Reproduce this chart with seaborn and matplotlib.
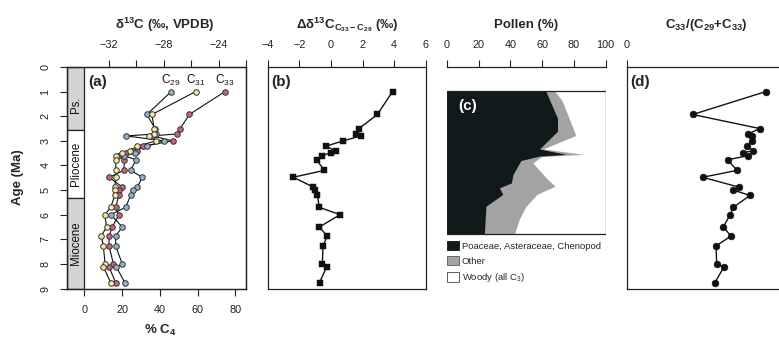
import matplotlib
matplotlib.use("Agg")
import matplotlib.pyplot as plt
import seaborn as sns
import pandas as pd
from matplotlib.patches import Patch, Rectangle

# ---------------- data ----------------
AGE = [1.00, 1.93, 2.50, 2.72, 2.80, 3.00, 3.22, 3.40, 3.48, 3.60, 3.77, 4.20,
       4.48, 4.88, 5.00, 5.22, 5.70, 6.00, 6.50, 6.87, 7.27, 8.00, 8.12, 8.76]
C29 = [46.0, 33.1, 37.5, 38.0, 22.2, 42.0, 33.0, 25.0, 27.0, 21.0, 27.4, 24.5,
       30.7, 28.1, 26.0, 24.5, 21.9, 14.0, 20.1, 16.6, 16.6, 20.1, 17.0, 21.4]
C31 = [58.9, 35.8, 37.0, 37.0, 34.0, 38.0, 28.0, 24.0, 20.0, 17.0, 16.8, 16.6,
       17.0, 16.0, 16.1, 16.1, 14.0, 10.8, 11.8, 9.0, 10.1, 11.0, 10.1, 14.0]
C33 = [74.4, 55.6, 50.8, 49.0, 36.0, 46.7, 31.3, 27.8, 22.0, 18.0, 21.2, 21.0,
       13.1, 20.1, 18.6, 18.3, 16.6, 18.3, 14.8, 13.1, 13.1, 15.4, 13.1, 16.6]
DELTA = [3.90, 2.94, 1.78, 1.57, 1.90, 0.79, -0.33, 0.30, 0.00, -0.54, -0.90, -0.42,
         -2.38, -1.11, -1.00, -0.85, -0.74, 0.58, -0.73, -0.23, -0.50, -0.54, -0.27, -0.72]
RATIO = [0.874, 0.415, 0.836, 0.765, 0.786, 0.786, 0.755, 0.797, 0.733, 0.765, 0.634, 0.694,
         0.478, 0.705, 0.671, 0.775, 0.671, 0.650, 0.608, 0.656, 0.562, 0.566, 0.612, 0.555]

P_AGE_BLACK = [0.98, 2.10, 2.63, 3.35, 3.57, 3.64, 3.82, 4.39, 4.73, 4.93, 5.20, 5.68, 6.80]
P_BLACK = [62.5, 70.0, 70.0, 58.7, 75.5, 58.7, 47.0, 42.0, 41.0, 33.5, 35.5, 25.0, 24.0]
P_AGE_OTHER = [0.98, 1.40, 2.80, 3.35, 3.57, 3.66, 3.92, 4.60, 4.86, 5.20, 5.70, 6.20, 6.80]
P_OTHER_CUM = [68.0, 73.0, 81.5, 61.0, 86.5, 60.0, 54.5, 64.0, 68.5, 57.0, 50.0, 46.0, 43.0]

EPOCH_NAMES = ["Ps.", "Pliocene", "Miocene"]
EPOCH_TOP = [0.0, 2.58, 5.33]
EPOCH_BOTTOM = [2.58, 5.33, 9.0]
EPOCH_COLORS = ["#d4d4d4", "white", "#d4d4d4"]

SERIES_NAMES = ["C$_{29}$", "C$_{31}$", "C$_{33}$"]
SERIES_COLORS = ["#8fb3cc", "#f3e9a2", "#c7637f"]

# ---------------- style ----------------
sns.set_theme(style="ticks")
plt.rcParams["font.family"] = ["Liberation Sans", "DejaVu Sans"]
plt.rcParams["mathtext.fontset"] = "custom"
plt.rcParams["mathtext.rm"] = "Liberation Sans"
plt.rcParams["mathtext.bf"] = "Liberation Sans:bold"
plt.rcParams["mathtext.it"] = "Liberation Sans:italic"
plt.rcParams["axes.linewidth"] = 0.9
plt.rcParams["axes.edgecolor"] = "#222222"

W, H = 779, 342


def rect(x0, y0, x1, y1):
    return [x0 / W, 1 - y1 / H, (x1 - x0) / W, (y1 - y0) / H]


fig = plt.figure(figsize=(W / 100, H / 100), dpi=100)
axA = fig.add_axes(rect(67, 67, 246, 288.5))
axB = fig.add_axes(rect(267.7, 67, 425.7, 288.5))
axC = fig.add_axes(rect(446.7, 67, 605.7, 288.5))
axD = fig.add_axes(rect(626.7, 67, 785.7, 288.5))

tick_kw = dict(direction="out", length=5, width=0.8, pad=7, labelsize=7.8, colors="#222222")
TITLE_FS = 9.5

# ---------------- panel (a) ----------------
XMIN_A = -9.15
axA.set_ylim(9, 0)
axA.set_xlim(XMIN_A, 85.6)
for top, bot, name, fc in zip(EPOCH_TOP, EPOCH_BOTTOM, EPOCH_NAMES, EPOCH_COLORS):
    axA.fill_betweenx([top, bot], XMIN_A, 0, facecolor=fc, edgecolor="#222222", lw=0.9, zorder=1)
    axA.text(XMIN_A / 2, (top + bot) / 2 + (0.25 if name == "Ps." else 0), name, rotation=90,
             ha="center", va="center", fontsize=8.3, color="#111111", zorder=2)

dfA = pd.DataFrame({"age": AGE * 3, "pc4": C29 + C31 + C33,
                    "chain": ["C29"] * len(AGE) + ["C31"] * len(AGE) + ["C33"] * len(AGE)})
for key in ["C29", "C31", "C33"]:
    sub = dfA[dfA["chain"] == key]
    sns.lineplot(data=sub, x="pc4", y="age", sort=False, estimator=None, color="#111111",
                 lw=0.8, ax=axA, legend=False, zorder=3)
for key, col in zip(["C33", "C29", "C31"], [SERIES_COLORS[2], SERIES_COLORS[0], SERIES_COLORS[1]]):
    sub = dfA[dfA["chain"] == key]
    sns.scatterplot(data=sub, x="pc4", y="age", color=col, edgecolor="#333333", linewidth=0.7,
                    s=16, ax=axA, legend=False, zorder=4)
for name, vals in zip(SERIES_NAMES, [C29, C31, C33]):
    axA.text(vals[0], 0.53, name, ha="center", va="center", fontsize=8.5, color="#111111")

axA.text(0.117, 0.965, "(a)", transform=axA.transAxes, ha="left", va="top",
         fontsize=11, fontweight="bold")
axA.set_xticks([0, 20, 40, 60, 80])
axA.set_yticks(range(0, 10))
axA.tick_params(axis="both", **tick_kw)
axA.tick_params(axis="y", labelrotation=90)
for lab in axA.get_yticklabels():
    lab.set_va("center")
axA.set_xlabel("")
axA.set_ylabel("")

axA2 = axA.twiny()
axA2.set_xlim(-35.05, -22.04)
axA2.set_xticks([-32, -30, -28, -26, -24, -22])
axA2.set_xticklabels(["\u221232", "", "\u221228", "", "\u221224", ""])
axA2.tick_params(axis="x", **tick_kw)

fig.text(160 / W, 1 - 330 / H, "% C$_\\mathbf{4}$", ha="center", va="center",
         fontsize=TITLE_FS, fontweight="bold")
fig.text(18 / W, 1 - 177 / H, "Age (Ma)", rotation=90, ha="center", va="center",
         fontsize=TITLE_FS, fontweight="bold")
fig.text(165 / W, 1 - 25 / H, "\u03b4$^{\\mathbf{13}}$C (\u2030, VPDB)", ha="center",
         va="center", fontsize=TITLE_FS, fontweight="bold")

# ---------------- panel (b) ----------------
dfB = pd.DataFrame({"age": AGE, "delta": DELTA})
sns.lineplot(data=dfB, x="delta", y="age", sort=False, estimator=None, color="#111111",
             lw=1.0, ax=axB, legend=False, zorder=3)
sns.scatterplot(data=dfB, x="delta", y="age", marker="s", color="#111111", edgecolor="#111111",
                s=16, ax=axB, legend=False, zorder=4)
axB.set_xlim(-4, 6)
axB.set_ylim(9, 0)
axB.xaxis.tick_top()
axB.set_xticks([-4, -2, 0, 2, 4, 6])
axB.set_yticks([])
axB.tick_params(axis="x", **tick_kw)
axB.set_xlabel("")
axB.set_ylabel("")
axB.text(0.02, 0.965, "(b)", transform=axB.transAxes, ha="left", va="top",
         fontsize=11, fontweight="bold")
fig.text(347 / W, 1 - 25 / H,
         "\u0394\u03b4$^{\\mathbf{13}}$C$_{\\mathbf{C_{33}\u2212C_{29}}}$ (\u2030)",
         ha="center", va="center", fontsize=TITLE_FS, fontweight="bold")

# ---------------- panel (c) ----------------
axC.fill_betweenx(P_AGE_OTHER, 0, P_OTHER_CUM, facecolor="#a3a3a3", edgecolor="none", zorder=1)
axC.fill_betweenx(P_AGE_BLACK, 0, P_BLACK, facecolor="#111a1a", edgecolor="none", zorder=2)
p_top = min(P_AGE_BLACK + P_AGE_OTHER)
p_bot = max(P_AGE_BLACK + P_AGE_OTHER)
axC.add_patch(Rectangle((0, p_top), 100, p_bot - p_top, fill=False, edgecolor="#222222",
                        lw=0.9, zorder=3))
axC.set_xlim(0, 100)
axC.set_ylim(9, 0)
for s in ["bottom", "left", "right"]:
    axC.spines[s].set_visible(False)
axC.xaxis.tick_top()
axC.set_xticks([0, 20, 40, 60, 80, 100])
axC.set_yticks([])
axC.tick_params(axis="x", **tick_kw)
axC.text(7.5, p_top + 0.3, "(c)", ha="left", va="top", fontsize=11, fontweight="bold",
         color="white", zorder=4)
handles = [Patch(facecolor="#111a1a", edgecolor="#111111", lw=0.6),
           Patch(facecolor="#a3a3a3", edgecolor="#555555", lw=0.6),
           Patch(facecolor="white", edgecolor="#444444", lw=0.6)]
labels = ["Poaceae, Asteraceae, Chenopod", "Other", "Woody (all C$_3$)"]
axC.legend(handles, labels, loc="upper left", bbox_to_anchor=(0.0, (288.5 - 241) / 221.5),
           frameon=False, fontsize=6.8, handlelength=1.35, handleheight=1.15,
           handletextpad=0.25, labelspacing=0.55, borderpad=0, borderaxespad=0)
fig.text(526.5 / W, 1 - 25 / H, "Pollen (%)", ha="center", va="center",
         fontsize=TITLE_FS, fontweight="bold")

# ---------------- panel (d) ----------------
dfD = pd.DataFrame({"age": AGE, "ratio": RATIO})
sns.lineplot(data=dfD, x="ratio", y="age", sort=False, estimator=None, color="#111111",
             lw=1.0, ax=axD, legend=False, zorder=3)
sns.scatterplot(data=dfD, x="ratio", y="age", marker="o", color="#111111", edgecolor="#111111",
                s=24, ax=axD, legend=False, zorder=4)
axD.set_xlim(0, 1)
axD.set_ylim(9, 0)
axD.spines["right"].set_visible(False)
axD.xaxis.tick_top()
axD.set_xticks([0])
axD.set_yticks([])
axD.tick_params(axis="x", **tick_kw)
axD.set_xlabel("")
axD.set_ylabel("")
axD.text(0.02, 0.965, "(d)", transform=axD.transAxes, ha="left", va="top",
         fontsize=11, fontweight="bold")
fig.text(706 / W, 1 - 25 / H,
         "C$_{\\mathbf{33}}$/(C$_{\\mathbf{29}}$+C$_{\\mathbf{33}}$)",
         ha="center", va="center", fontsize=TITLE_FS, fontweight="bold")

fig.savefig("out.png", dpi=100)
